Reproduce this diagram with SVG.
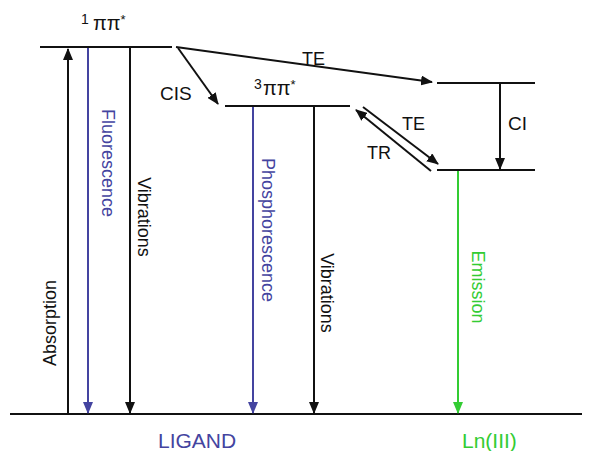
<svg xmlns="http://www.w3.org/2000/svg" width="590" height="451" viewBox="0 0 590 451">
<defs>
<style>
text{font-family:"Liberation Sans",Arial,sans-serif;font-size:18px;fill:#111}
.lvl{stroke:#111;stroke-width:2;fill:none}
.k{stroke:#111;stroke-width:2;fill:none}
.b{stroke:#4444a0;stroke-width:2;fill:none}
.g{stroke:#33cc33;stroke-width:2;fill:none}
.blue{fill:#4444a0}
.green{fill:#33cc33}
.big{font-size:21px}
</style>
<marker id="ak" viewBox="0 0 12 10" refX="11" refY="5" markerWidth="12" markerHeight="10" markerUnits="userSpaceOnUse" orient="auto"><path d="M0,0 L12,5 L0,10 Z" fill="#111"/></marker>
<marker id="ab" viewBox="0 0 12 10" refX="11" refY="5" markerWidth="12" markerHeight="10" markerUnits="userSpaceOnUse" orient="auto"><path d="M0,0 L12,5 L0,10 Z" fill="#4444a0"/></marker>
<marker id="ag" viewBox="0 0 12 10" refX="11" refY="5" markerWidth="12" markerHeight="10" markerUnits="userSpaceOnUse" orient="auto"><path d="M0,0 L12,5 L0,10 Z" fill="#33cc33"/></marker>
</defs>
<rect width="590" height="451" fill="#fff"/>

<g id="ground">
<line class="lvl" x1="10" y1="414" x2="582" y2="414"/>
</g>
<g id="s1">
<line class="lvl" x1="40" y1="47" x2="172" y2="47"/>
<text x="81" y="24" style="font-size:14px">1</text>
<text x="93" y="30" style="font-size:20px">ππ<tspan dy="-6" style="font-size:13px">*</tspan></text>
</g>
<g id="t3">
<line class="lvl" x1="225" y1="106" x2="350" y2="106"/>
<text x="254" y="89" style="font-size:14px">3</text>
<text x="263" y="95" style="font-size:20px">ππ<tspan dy="-6" style="font-size:13px">*</tspan></text>
</g>
<g id="ln-upper">
<line class="lvl" x1="437" y1="83" x2="535" y2="83"/>
</g>
<g id="ln-lower">
<line class="lvl" x1="437" y1="170" x2="535" y2="170"/>
</g>

<g id="connectors">
<line class="k" x1="68" y1="413" x2="68" y2="49" marker-end="url(#ak)"/>
<line class="b" x1="88" y1="48" x2="88" y2="413" marker-end="url(#ab)"/>
<line class="k" x1="130" y1="48" x2="130" y2="413" marker-end="url(#ak)"/>
<line class="b" x1="253" y1="107" x2="253" y2="413" marker-end="url(#ab)"/>
<line class="k" x1="314" y1="107" x2="314" y2="413" marker-end="url(#ak)"/>
<line class="g" x1="458" y1="171" x2="458" y2="413" marker-end="url(#ag)"/>
<line class="k" x1="500" y1="84" x2="500" y2="169" marker-end="url(#ak)"/>
<line class="k" x1="176" y1="47" x2="432" y2="82" marker-end="url(#ak)"/>
<line class="k" x1="178" y1="48" x2="218" y2="104" marker-end="url(#ak)"/>
<line class="k" x1="363" y1="107" x2="438" y2="164" marker-end="url(#ak)"/>
<line class="k" x1="431" y1="171" x2="356" y2="110" marker-end="url(#ak)"/>
</g>

<g id="labels">
<text x="302" y="65">TE</text>
<text x="160" y="100" style="font-size:19px">CIS</text>
<text x="402" y="130">TE</text>
<text x="367" y="159">TR</text>
<text x="508" y="130" style="font-size:19px">CI</text>
<text class="blue" x="102" y="163" text-anchor="middle" transform="rotate(90 102 163)">Fluorescence</text>
<text x="138" y="217" text-anchor="middle" transform="rotate(90 138 217)">Vibrations</text>
<text class="blue" x="262" y="230" text-anchor="middle" transform="rotate(90 262 230)">Phosphorescence</text>
<text x="321" y="293" text-anchor="middle" transform="rotate(90 321 293)">Vibrations</text>
<text class="green" x="472" y="287" text-anchor="middle" transform="rotate(90 472 287)">Emission</text>
<text x="56" y="323" text-anchor="middle" transform="rotate(-90 56 323)">Absorption</text>
<text class="blue big" x="158" y="448">LIGAND</text>
<text class="green big" x="462" y="448">Ln(III)</text>
</g>
</svg>
